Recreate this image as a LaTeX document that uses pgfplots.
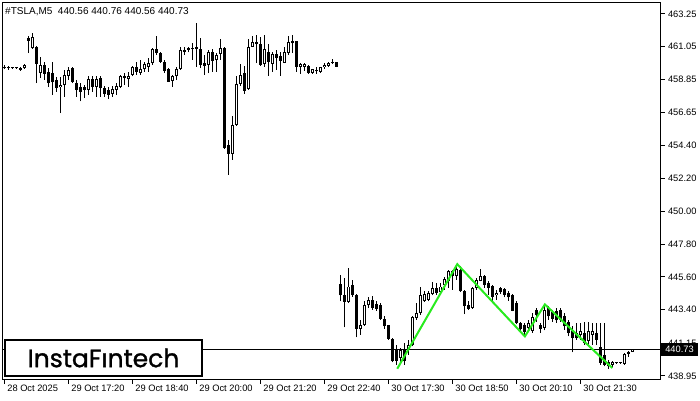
\documentclass[border=0pt]{standalone}
\usepackage{pgfplots}
\pgfplotsset{compat=1.18}
\usepackage{pgfplotstable}
\usepackage{fontspec}
\setmainfont{Liberation Sans}
\newfontfamily\logofont{Poppins}[FakeBold=1.2]
\definecolor{pat}{RGB}{40,235,30}

\pgfplotstableread{
i o h l c
0 459.70 459.85 459.55 459.60
1 459.60 459.75 459.50 459.66
2 459.64 459.70 459.55 459.60
3 459.60 459.68 459.55 459.63
4 459.63 459.68 459.42 459.48
5 459.60 459.90 459.57 459.84
6 461.60 461.75 460.62 461.45
7 460.95 461.97 460.88 461.70
8 461.06 461.10 458.60 459.90
9 459.27 460.39 458.94 459.83
10 459.83 460.05 458.82 459.22
11 459.38 459.61 458.33 458.60
12 459.30 460.05 457.82 458.65
13 458.82 459.04 458.04 458.26
14 458.33 459.04 456.59 458.49
15 458.49 459.49 457.70 459.16
16 459.09 459.71 458.82 459.49
17 459.65 459.71 458.60 458.71
18 458.60 458.82 457.70 458.15
19 458.33 458.64 457.37 458.04
20 458.33 458.49 457.59 458.15
21 458.15 459.09 457.82 458.89
22 458.89 459.09 458.04 458.33
23 458.33 459.09 457.70 458.89
24 458.94 459.09 457.70 458.26
25 458.26 458.42 457.66 457.88
26 458.15 458.33 457.53 457.82
27 457.88 458.42 457.70 458.20
28 458.15 458.60 457.82 458.42
29 458.37 459.16 458.26 459.05
30 459.09 459.27 458.49 458.94
31 458.89 459.38 458.33 459.09
32 459.16 459.76 459.05 459.71
33 459.71 460.05 459.16 459.38
34 459.31 460.16 459.16 459.54
35 459.54 460.05 459.38 459.88
36 459.71 460.28 459.38 459.94
37 459.94 460.99 459.83 460.88
38 460.88 461.77 460.50 460.61
39 460.61 460.72 459.98 460.05
40 460.05 460.16 459.27 459.43
41 459.56 459.61 458.71 458.71
42 458.77 459.16 458.37 459.05
43 459.05 459.71 458.82 459.54
44 459.54 461.02 459.49 460.84
45 460.72 461.02 460.50 460.84
46 460.95 461.06 460.66 460.84
47 460.95 461.28 460.16 460.88
48 461.02 462.67 459.71 460.88
49 460.88 461.62 459.61 459.83
50 459.98 460.50 459.16 459.76
51 459.83 460.84 459.27 460.72
52 460.72 460.88 459.38 460.12
53 460.16 460.65 459.38 460.50
54 460.55 461.55 460.16 460.95
55 460.95 461.02 454.20 454.24
56 454.46 454.80 452.45 453.86
57 453.86 456.41 453.45 455.80
58 455.80 459.09 455.73 458.55
59 458.55 459.90 458.42 459.16
60 459.31 459.76 457.88 458.10
61 458.20 461.55 458.15 461.02
62 461.06 461.77 461.02 461.35
63 461.35 461.84 459.94 461.22
64 461.24 461.73 459.76 459.83
65 459.88 461.84 459.71 460.88
66 460.72 461.24 459.09 460.05
67 459.90 460.72 459.38 460.56
68 460.56 460.84 459.49 460.28
69 460.43 460.72 459.09 460.12
70 459.98 461.06 459.94 460.72
71 460.61 461.77 460.50 461.39
72 461.28 461.84 460.61 461.42
73 461.44 461.46 459.38 459.71
74 459.67 459.94 459.22 459.90
75 459.71 459.94 459.45 459.90
76 459.76 459.81 459.22 459.27
77 459.31 459.58 459.22 459.54
78 459.49 459.67 459.22 459.40
79 459.38 459.71 459.27 459.67
80 459.67 459.94 459.58 459.83
81 459.76 460.05 459.67 459.94
82 460.05 460.21 459.90 459.94
83 460.05 460.05 459.67 459.71
84 445.10 445.74 443.95 444.35
85 444.35 445.52 442.20 443.91
86 443.91 446.19 443.84 444.95
87 445.07 445.40 444.27 444.40
88 444.40 444.45 441.53 442.12
89 442.12 442.72 441.71 442.35
90 442.35 444.00 442.30 443.68
91 443.68 444.22 443.50 444.06
92 444.06 444.28 443.39 443.50
93 443.77 443.95 443.32 443.46
94 443.68 443.84 442.72 442.78
95 442.78 443.00 442.12 442.27
96 442.38 442.38 441.38 441.44
97 441.44 441.49 439.85 439.92
98 440.77 441.04 439.70 439.97
99 440.15 440.82 439.81 440.70
100 440.77 441.15 439.70 439.92
101 440.70 441.38 440.37 441.04
102 441.04 442.94 440.93 442.87
103 442.83 443.84 442.72 443.17
104 443.17 444.89 443.05 444.40
105 443.95 444.62 443.91 444.44
106 444.06 444.66 443.95 444.51
107 444.44 445.25 444.35 444.85
108 444.85 445.18 444.40 444.51
109 444.58 445.18 444.51 444.95
110 445.02 445.56 444.73 445.47
111 445.34 446.07 444.85 445.96
112 445.96 446.07 444.73 445.63
113 445.63 446.41 445.40 446.14
114 446.08 446.30 444.58 444.62
115 444.66 444.73 443.10 443.61
116 443.72 443.95 443.39 443.46
117 443.50 444.95 443.46 444.85
118 444.85 445.52 444.73 445.40
119 445.34 446.14 445.29 445.63
120 445.63 445.69 444.85 445.07
121 445.18 445.29 444.40 444.85
122 445.00 445.07 443.84 444.22
123 444.35 444.73 444.06 444.51
124 444.85 444.95 444.44 444.58
125 444.80 444.85 444.22 444.40
126 444.51 444.66 443.99 444.22
127 444.35 444.44 443.28 443.32
128 443.84 443.95 442.43 442.50
129 442.50 442.60 441.83 442.12
130 442.38 442.50 441.60 441.89
131 442.16 442.72 442.05 442.50
132 441.98 443.17 441.83 442.87
133 443.39 443.50 442.60 443.05
134 442.35 442.50 441.83 442.12
135 442.17 443.66 442.00 443.35
136 443.50 443.66 442.72 442.94
137 443.21 443.35 442.60 442.77
138 443.28 443.50 442.50 442.67
139 443.35 443.50 442.60 442.72
140 442.94 443.17 442.05 442.27
141 442.60 442.72 441.60 441.83
142 441.93 442.27 440.52 441.49
143 441.86 442.50 441.38 441.49
144 441.71 442.50 441.38 441.93
145 441.86 442.60 441.04 441.15
146 441.26 442.60 441.04 441.99
147 441.71 442.50 441.04 441.93
148 441.86 442.50 441.04 441.38
149 440.88 442.50 439.70 439.82
150 440.37 442.50 439.58 439.70
151 439.85 439.99 439.40 439.58
152 439.70 439.92 439.55 439.85
153 439.80 439.88 439.75 439.83
154 439.82 439.90 439.78 439.85
155 439.77 440.49 439.70 440.42
156 440.42 440.62 440.25 440.56
157 440.56 440.76 440.56 440.73
}\candles

\begin{document}
\begin{tikzpicture}[x=1pt,y=1pt]
\useasboundingbox[fill=white] (0,0) rectangle (700,400);
\begin{axis}[
  at={(0.5,13.5)}, anchor=south west,
  scale only axis, width=658.5pt, height=377pt,
  xmin=-0.7, xmax=163.9, ymin=438.68, ymax=463.99,
  axis line style={black, line width=0.9pt},
  tick align=outside, major tick length=4pt,
  tick style={black, line width=0.9pt},
  xtick pos=left, ytick pos=right, yticklabel pos=right,
  xtick={0,16,32,48,64,80,96,112,128,144},
  xticklabels={28 Oct 2025, 29 Oct 17:20, 29 Oct 18:40, 29 Oct 20:00, 29 Oct 21:20, 29 Oct 22:40, 30 Oct 17:30, 30 Oct 18:50, 30 Oct 20:10, 30 Oct 21:30},
  ytick={438.95,441.15,443.40,445.60,447.80,450.00,452.20,454.40,456.65,458.85,461.05,463.25},
  yticklabels={438.95,441.15,443.40,445.60,447.80,450.00,452.20,454.40,456.65,458.85,461.05,463.25},
  ticklabel style={font=\fontsize{9.3}{10}\selectfont},
  xticklabel style={anchor=north west, xshift=-1pt, yshift=2.5pt},
  yticklabel style={anchor=west},
]
% bid line
\addplot[black, line width=0.9pt] coordinates {(-0.7,440.73) (163.9,440.73)};
% wicks
\addplot[black, line width=1pt, quiver={u=0, v=\thisrow{h}-\thisrow{l}}]
  table[x=i, y=l] {\candles};
% bodies
\addplot[black, line width=3pt, quiver={u=0, v={max(abs(\thisrow{c}-\thisrow{o}),0.067)}}]
  table[x=i, y expr={min(\thisrow{o},\thisrow{c})}] {\candles};
% hollow interiors of rising candles
\addplot[white, line width=1pt, quiver={u=0, v=\thisrow{c}-\thisrow{o}-0.134},
  unbounded coords=discard, filter discard warning=false,
  y filter/.expression={\thisrow{c}-\thisrow{o}>0.15 ? y : nan}]
  table[x=i, y expr={\thisrow{o}+0.067}] {\candles};
% pattern line
\addplot[pat, line width=2pt] coordinates {(98.1,439.43) (113.1,446.45) (130,441.60) (135,443.75) (151.85,439.48)};
\end{axis}
\node[anchor=west, inner sep=0, font=\fontsize{10}{11}\selectfont] at (5,388) {\#TSLA,M5\ \ 440.56 440.76 440.56 440.73};
\node[draw=black, line width=2pt, fill=white, minimum width=197pt, minimum height=36pt, anchor=south west, inner sep=0] at (4,23) {\logofont\fontsize{25}{25}\selectfont InstaFıntech};
\fill[black] (661,44) rectangle (698,57);
\node[white, inner sep=0, font=\fontsize{9.3}{10}\selectfont] at (679.5,50.5) {440.73};
\end{tikzpicture}
\end{document}
